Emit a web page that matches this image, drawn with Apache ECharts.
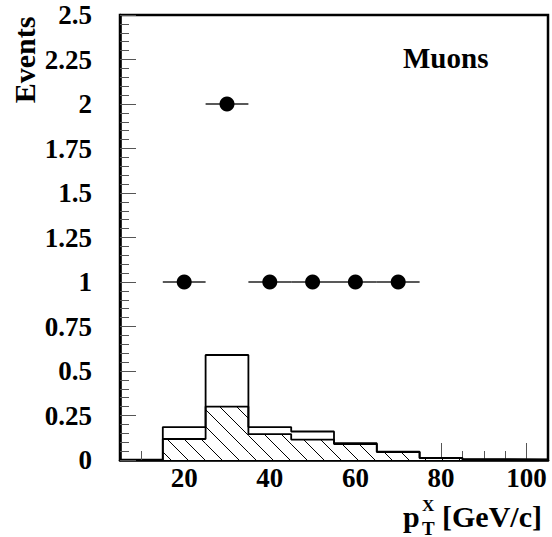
<!DOCTYPE html>
<html>
<head>
<meta charset="utf-8">
<script src="https://cdn.jsdelivr.net/npm/echarts@6/dist/echarts.min.js"></script>
<style>html,body{margin:0;padding:0;background:#fff}#c{width:552px;height:537px}</style>
</head>
<body>
<div id="c"></div>
<script>
// ---- data ----
var binEdges = [15, 25, 35, 45, 55, 65, 75, 85, 95, 105];
var totalBkg = [0.185, 0.59, 0.185, 0.16, 0.094, 0.047, 0.012, 0.004, 0.002];
var hatchedBkg = [0.118, 0.30, 0.145, 0.115, 0.09, 0.045, 0.01, 0.004, 0.002];
var dataX = [20, 30, 40, 50, 60, 70];
var dataY = [1, 2, 1, 1, 1, 1];
var dataXErr = [5, 5, 5, 5, 5, 5];
var xMajorTicks = [20, 40, 60, 80, 100];
var xMinorTicks = [10, 15, 25, 30, 35, 45, 50, 55, 65, 70, 75, 85, 90, 95];

var FONT = '"Liberation Serif", "DejaVu Serif", serif';

function stepPoints(vals) {
  var pts = [[binEdges[0], 0]];
  for (var i = 0; i < vals.length; i++) {
    pts.push([binEdges[i], vals[i]]);
    pts.push([binEdges[i + 1], vals[i]]);
  }
  pts.push([binEdges[binEdges.length - 1], 0]);
  return pts;
}

var binData = [];
for (var i = 0; i < hatchedBkg.length; i++) binData.push([binEdges[i], binEdges[i + 1], hatchedBkg[i]]);

var errData = [];
for (var j = 0; j < dataX.length; j++) errData.push([dataX[j] - dataXErr[j], dataX[j] + dataXErr[j], dataY[j]]);

var chart = echarts.init(document.getElementById('c'), null, {renderer: 'svg'});

var HATCH = 17;
function renderHatch(params, api) {
  var p0 = api.coord([api.value(0), api.value(2)]);
  var p1 = api.coord([api.value(1), 0]);
  var x0 = p0[0], y0 = p0[1], x1 = p1[0], y1 = p1[1];
  var children = [];
  var cStart = Math.floor((x0 - y1) / HATCH) * HATCH;
  for (var c = cStart; c <= x1 - y0; c += HATCH) {
    var xs = Math.max(x0, c + y0);
    var xe = Math.min(x1, c + y1);
    if (xe - xs > 0.5) {
      children.push({
        type: 'line',
        shape: {x1: xs, y1: xs - c, x2: xe, y2: xe - c},
        style: {stroke: '#000', lineWidth: 1}
      });
    }
  }
  return {type: 'group', children: children};
}

function renderErr(params, api) {
  var a = api.coord([api.value(0), api.value(2)]);
  var b = api.coord([api.value(1), api.value(2)]);
  return {type: 'line', shape: {x1: a[0], y1: a[1], x2: b[0], y2: b[1]}, style: {stroke: '#222', lineWidth: 1.5}};
}

var option = {
  animation: false,
  backgroundColor: '#fff',
  grid: {left: 120, right: 4, top: 15, bottom: 77, show: true, borderColor: '#000', borderWidth: 2.5, backgroundColor: 'transparent'},
  xAxis: [{
    type: 'value', min: 5, max: 105,
    axisLine: {show: true, onZero: false, lineStyle: {color: '#000', width: 2.5}},
    axisTick: {show: true, inside: true, length: 17, customValues: xMajorTicks, lineStyle: {color: '#555', width: 1}},
    axisLabel: {show: true, customValues: xMajorTicks, margin: 8, lineHeight: 20, color: '#000', fontFamily: FONT, fontWeight: 'bold', fontSize: 27},
    splitLine: {show: false}
  }, {
    type: 'value', min: 5, max: 105, position: 'bottom',
    axisLine: {show: false},
    axisTick: {show: true, inside: true, length: 9, customValues: xMinorTicks, lineStyle: {color: '#555', width: 1}},
    axisLabel: {show: false},
    splitLine: {show: false}
  }],
  yAxis: {
    type: 'value', min: 0, max: 2.5, interval: 0.25,
    axisLine: {show: true, lineStyle: {color: '#000', width: 2.5}},
    axisTick: {show: true, inside: true, length: 16, lineStyle: {color: '#555', width: 1}},
    minorTick: {show: true, splitNumber: 5, length: 9, lineStyle: {color: '#555', width: 1}},
    axisLabel: {margin: 28, color: '#000', fontFamily: FONT, fontWeight: 'bold', fontSize: 27,
      formatter: function (v) { return String(Math.round(v * 100) / 100); }},
    splitLine: {show: false}
  },
  series: [
    {
      type: 'line', data: stepPoints(totalBkg), symbol: 'none', z: 1,
      lineStyle: {color: '#000', width: 1.8}, areaStyle: {color: '#fff', opacity: 1, origin: 0}
    },
    {
      type: 'custom', data: binData, renderItem: renderHatch, z: 2, clip: true
    },
    {
      type: 'line', data: stepPoints(hatchedBkg), symbol: 'none', z: 3,
      lineStyle: {color: '#000', width: 1.8}
    },
    {
      type: 'custom', data: errData, renderItem: renderErr, z: 4
    },
    {
      type: 'scatter', data: dataX.map(function (x, k) { return [x, dataY[k]]; }),
      symbol: 'circle', symbolSize: 15, itemStyle: {color: '#000', opacity: 1}, z: 5
    }
  ],
  graphic: [
    {type: 'text', x: 24, y: 60, rotation: Math.PI / 2,
      style: {text: 'Events', font: 'bold 30px ' + FONT, fill: '#000', align: 'center', verticalAlign: 'middle'}},
    {type: 'text', x: 403, y: 58,
      style: {text: 'Muons', font: 'bold 29px ' + FONT, fill: '#000', align: 'left', verticalAlign: 'middle'}},
    {type: 'text', x: 403, y: 516,
      style: {text: 'p', font: 'bold 30px ' + FONT, fill: '#000', align: 'left', verticalAlign: 'middle'}},
    {type: 'text', x: 422, y: 505,
      style: {text: 'X', font: 'bold 17px ' + FONT, lineHeight: 12, fill: '#000', align: 'left', verticalAlign: 'middle'}},
    {type: 'text', x: 422, y: 528,
      style: {text: 'T', font: 'bold 19px ' + FONT, fill: '#000', align: 'left', verticalAlign: 'middle'}},
    {type: 'text', x: 442, y: 516,
      style: {text: '[GeV/c]', font: 'bold 30px ' + FONT, fill: '#000', align: 'left', verticalAlign: 'middle'}}
  ]
};
chart.setOption(option);
</script>
</body>
</html>
